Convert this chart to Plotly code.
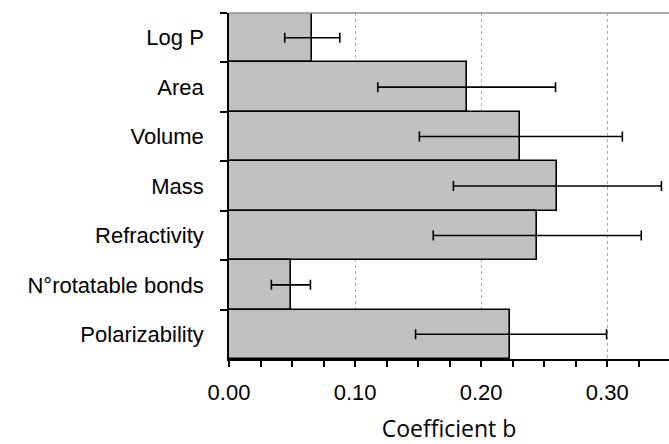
import plotly.graph_objects as go

categories = ["Log P", "Area", "Volume", "Mass", "Refractivity", "N°rotatable bonds", "Polarizability"]
coef = [0.0656, 0.189, 0.231, 0.260, 0.244, 0.049, 0.2228]
err_plus = [0.0223, 0.070, 0.081, 0.083, 0.083, 0.0156, 0.0767]
err_minus = [0.0214, 0.071, 0.080, 0.082, 0.082, 0.0154, 0.0748]
x_ticks = [0.0, 0.1, 0.2, 0.3]
x_tick_labels = ["0.00", "0.10", "0.20", "0.30"]

SANS = "Arial"

fig = go.Figure()
fig.add_trace(go.Bar(
    y=categories, x=coef, orientation="h",
    marker=dict(color="#c0c0c0", line=dict(color="black", width=1.6)),
    error_x=dict(type="data", symmetric=False, array=err_plus, arrayminus=err_minus,
                 color="black", thickness=1.6, width=5),
))

fig.update_layout(
    width=669, height=444,
    margin=dict(l=229, r=0, t=13, b=85),
    plot_bgcolor="white", paper_bgcolor="white",
    bargap=0, showlegend=False,
    font=dict(family=SANS, color="black"),
    shapes=[dict(type="line", xref="paper", yref="paper", x0=0, x1=1, y0=1, y1=1,
                 line=dict(color="#909090", width=1.5))],
)
fig.update_xaxes(
    range=[0, 0.349], tickvals=x_ticks, ticktext=x_tick_labels,
    tickfont=dict(size=22, family=SANS, color="black"),
    ticks="outside", ticklen=6, tickwidth=1.5, tickcolor="black",
    showline=True, linecolor="black", linewidth=1.5,
    showgrid=True, gridcolor="#aaaaaa", griddash="dot", gridwidth=1,
    minor=dict(dtick=0.025, tick0=0, ticks="outside", ticklen=6, tickwidth=1.5, tickcolor="black", showgrid=False),
    zeroline=False, ticklabelstandoff=7,
    title=dict(text="Coefficient b", font=dict(size=23, family="Open Sans", color="black"), standoff=19),
)
fig.update_yaxes(
    categoryorder="array", categoryarray=categories, autorange="reversed",
    tickfont=dict(size=22, family=SANS, color="black"),
    ticks="outside", tickson="boundaries", ticklen=7, tickwidth=1.5, tickcolor="black",
    showline=True, linecolor="black", linewidth=1.5, showgrid=False,
    ticklabelstandoff=19,
)

fig.write_html("out.html")
